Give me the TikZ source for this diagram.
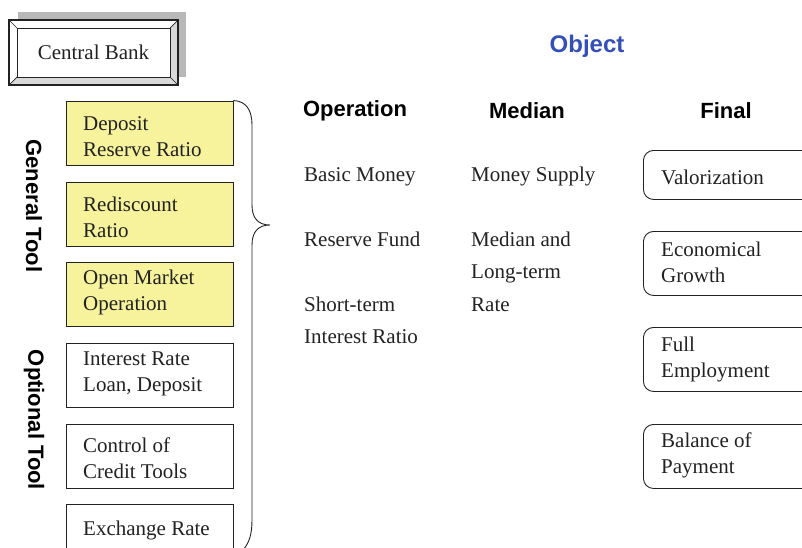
\documentclass[tikz,border=0pt]{standalone}
\usepackage{fontspec}
\setmainfont{Liberation Serif}
\setsansfont{Liberation Sans}
\definecolor{shadowgray}{HTML}{B8B8B8}
\definecolor{bevelgray}{HTML}{D9D9D9}
\definecolor{toolyellow}{HTML}{F7F29C}
\definecolor{objblue}{HTML}{3450B8}
\definecolor{ink}{HTML}{222222}
\begin{document}
\begin{tikzpicture}[x=1pt,y=-1pt,
  txt/.style={inner sep=0pt, anchor=west, align=left, text=ink, font=\fontsize{21}{26}\selectfont},
  coltxt/.style={inner sep=0pt, anchor=west, align=left, text=ink, font=\fontsize{21}{32.5}\selectfont},
  head/.style={inner sep=0pt, text=black, font=\sffamily\bfseries\fontsize{22}{26}\selectfont},
  toolbox/.style={draw=ink, line width=0.9pt, minimum width=167pt, minimum height=64pt, inner sep=0pt},
  finalbox/.style={draw=ink, line width=0.9pt, rounded corners=10pt, minimum width=187pt, inner sep=0pt, anchor=north west}
]
\useasboundingbox (0,0) rectangle (802,547);
% Central bank beveled box
\fill[shadowgray] (18,12) rectangle (186,77);
\fill[white] (9,20) rectangle (178,85);
\fill[bevelgray] (178,20) -- (170,28) -- (170,77) -- (178,85) -- cycle;
\fill[bevelgray] (9,85) -- (17,77) -- (170,77) -- (178,85) -- cycle;
\draw[ink, line width=1.1pt] (9,20) rectangle (178,85);
\draw[ink, line width=0.7pt] (9,20) -- (17,28) (178,20) -- (170,28) (9,85) -- (17,77) (178,85) -- (170,77);
\node[draw=ink, line width=0.9pt, minimum width=153pt, minimum height=49pt, inner sep=0pt, text=ink,
  font=\fontsize{21}{26}\selectfont] (cb) at (93.5,52.5) {\raisebox{-1.5pt}{Central Bank}};
% tool boxes
\node[toolbox, fill=toolyellow] (t1) at (149.5,133) {};
\node[toolbox, fill=toolyellow] (t2) at (149.5,214) {};
\node[toolbox, fill=toolyellow] (t3) at (149.5,294) {};
\node[toolbox] (t4) at (149.5,375) {};
\node[toolbox] (t5) at (149.5,456) {};
\node[toolbox] (t6) at (149.5,536) {};
\node[txt] (t1t) at (83,136.5) {Deposit\\Reserve Ratio};
\node[txt] (t2t) at (83,217.5) {Rediscount\\Ratio};
\node[txt] (t3t) at (83,292.5) {Open Market\\Operation};
\node[txt] (t4t) at (83,373.5) {Interest Rate\\Loan, Deposit};
\node[txt] (t5t) at (83,458.5) {Control of\\Credit Tools};
\node[txt] (t6t) at (83,530.5) {Exchange Rate};
% side labels
\node[head, rotate=-90] (gen) at (34,206) {General Tool};
\node[head, rotate=-90] (opt) at (34,420) {Optional Tool};
% brace
\coordinate (tip) at (270,225);
\coordinate (bend) at (243,550);
\draw[ink, line width=0.9pt] (t1.north east) .. controls (246,101) and (252,110) .. (252,125)
  -- (252,205) .. controls (252,218) and (258,225) .. (tip)
  .. controls (258,225) and (252,232) .. (252,245)
  -- (252,520) .. controls (252,535) and (249,543) .. (bend);
% headings
\node[head, text=objblue, font=\sffamily\bfseries\fontsize{24}{28}\selectfont] (obj) at (587,46.5) {Object};
\node[head] (hop) at (355,110.5) {Operation};
\node[head] (hme) at (527,110.5) {Median};
\node[head] (hfi) at (726,110.5) {Final};
% columns
\node[coltxt] (op1) at (304,176.5) {Basic Money};
\node[coltxt] (op2) at (304,239.5) {Reserve Fund};
\node[coltxt] (op3) at (304,320.5) {Short-term\\Interest Ratio};
\node[coltxt] (me1) at (471,176.5) {Money Supply};
\node[coltxt] (me2) at (471,271.5) {Median and\\Long-term\\Rate};
% final boxes
\node[finalbox, minimum height=49pt] (f1) at (643,150) {};
\node[finalbox, minimum height=64pt] (f2) at (643,231) {};
\node[finalbox, minimum height=64pt] (f3) at (643,327) {};
\node[finalbox, minimum height=64pt] (f4) at (643,424) {};
\node[txt] (f1t) at (661,177.5) {Valorization};
\node[txt] (f2t) at (661,262.5) {Economical\\Growth};
\node[txt] (f3t) at (661,359.5) {Full\\Employment};
\node[txt] (f4t) at (661,455.5) {Balance of\\Payment};
\end{tikzpicture}
\end{document}
